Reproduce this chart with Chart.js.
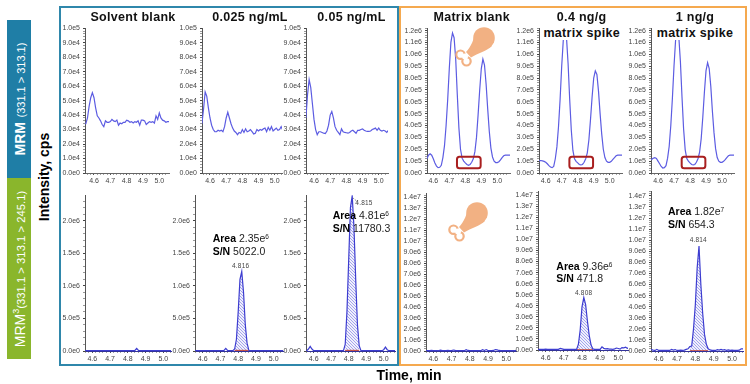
<!DOCTYPE html>
<html>
<head>
<meta charset="utf-8">
<script src="https://cdn.jsdelivr.net/npm/chart.js@4"></script>
<style>
html,body{margin:0;padding:0;background:#fff;}
#stage{position:relative;width:750px;height:384px;overflow:hidden;background:#fff;font-family:"Liberation Sans",Arial,sans-serif;filter:blur(0.45px);}
#stage canvas{position:absolute;}
.abs{position:absolute;white-space:nowrap;}
.title{font-weight:700;font-size:12.5px;letter-spacing:.3px;color:#111;transform:translate(-50%,-50%);line-height:14px;}
.title.mask{background:#fff;padding:0 1px;}
.note{font-size:10.5px;color:#222;line-height:12px;transform:translateY(-50%);}
.note b{color:#000;}
.note sup{font-size:6.5px;line-height:0;vertical-align:3px;}
.rt{font-size:6.5px;color:#444;transform:translate(-50%,-50%);letter-spacing:.2px;}
.rot{transform:translate(-50%,-50%) rotate(-90deg);color:#fff;}
</style>
</head>
<body>
<div id="stage"></div>
<script>
// retention time grid, minutes
const timeGrid=[4.54,4.55,4.56,4.57,4.58,4.59,4.60,4.61,4.62,4.63,
4.64,4.65,4.66,4.67,4.68,4.69,4.70,4.71,4.72,4.73,
4.74,4.75,4.76,4.77,4.78,4.79,4.80,4.81,4.82,4.83,
4.84,4.85,4.86,4.87,4.88,4.89,4.90,4.91,4.92,4.93,
4.94,4.95,4.96,4.97,4.98,4.99,5.00,5.01,5.02,5.03,
5.04,5.05,5.06,5.07,5.08];

// MRM row, solvent series, x1e4 cps
const mrmSolventBlank=[3.4,3.4,3.8,4.6,5.2,5.55,5.2,4.5,3.95,3.8,
3.6,3.35,3.2,3.6,3.5,3.5,3.55,3.7,3.6,3.55,
3.65,3.3,3.45,3.4,3.5,3.5,3.65,3.6,3.5,3.55,
3.45,3.55,3.5,3.6,3.3,3.65,3.65,3.6,3.35,3.45,
3.55,3.5,3.55,3.45,3.95,3.7,4.15,3.8,3.65,3.6,
3.5,3.55,3.55,3.55,3.55];
const mrmSolvent0025=[3.4,3.4,4.4,5.6,5.3,4.5,3.8,3.3,3.0,2.85,
2.85,2.95,2.9,2.95,2.85,3.2,3.8,4.2,3.8,3.4,
3.1,2.9,2.8,2.65,2.8,2.75,3.0,2.8,3.05,2.85,
2.9,3.0,2.85,2.7,2.75,3.0,2.9,3.0,2.95,3.05,
3.1,2.85,3.15,2.95,3.2,2.9,3.0,3.1,2.95,3.0,
3.2,2.95,3.0,3.0,3.0];
const mrmSolvent005=[3.8,3.8,5.4,6.45,5.9,4.8,3.7,3.0,2.65,2.85,
2.85,2.8,2.75,2.72,2.9,3.3,4.0,4.25,3.8,3.2,
2.95,2.8,2.65,3.05,2.85,2.8,2.78,2.75,2.8,2.9,
2.95,2.85,2.75,2.95,2.95,3.0,3.05,2.95,2.9,2.88,
2.88,2.9,3.0,3.05,3.1,2.95,3.1,2.95,2.9,2.95,
2.9,2.8,2.95,2.95,2.95];

// MRM row, matrix series, x1e5 cps
const mrmMatrixBlank=[1.0,1.0,1.2,1.5,1.62,1.5,1.2,0.85,0.58,0.45,
0.48,0.65,1.3,2.3,4.0,6.2,8.8,11.0,11.8,11.4,
9.6,6.6,3.8,2.0,1.25,1.0,0.85,0.72,0.65,0.72,
0.9,1.2,1.8,3.0,4.9,7.0,8.8,9.6,9.1,7.5,
5.4,3.5,2.1,1.35,1.0,0.88,0.88,0.95,1.1,1.3,
1.45,1.5,1.5,1.5,1.5];
const mrmMatrix04=[1.05,1.05,1.05,1.05,1.02,0.98,0.9,0.78,0.62,0.5,
0.45,0.55,1.2,2.2,3.9,6.2,9.0,11.2,12.0,11.4,
9.2,6.2,3.6,1.9,1.2,0.98,0.85,0.72,0.68,0.72,
0.9,1.2,1.7,2.8,4.5,6.4,8.0,8.6,8.3,6.9,
5.0,3.3,2.0,1.3,1.0,0.9,0.9,0.98,1.15,1.3,
1.45,1.5,1.5,1.5,1.5];
const mrmMatrix1=[1.1,1.1,1.15,1.25,1.3,1.22,1.0,0.78,0.55,0.42,
0.45,0.62,1.25,2.25,4.0,6.3,9.0,11.2,12.0,11.5,
9.4,6.4,3.7,1.95,1.22,1.0,0.85,0.72,0.68,0.72,
0.9,1.2,1.75,2.9,4.7,6.8,8.6,9.3,8.8,7.3,
5.2,3.4,2.05,1.3,1.0,0.9,0.9,0.98,1.12,1.3,
1.45,1.5,1.5,1.5,1.5];

// MRM3 row, solvent series, x1e6 cps
const mrm3SolventBlank=[.005,.005,.005,.005,.005,.005,.005,.005,.005,.005,
.005,.005,.005,.005,.005,.005,.005,.005,.005,.005,
.005,.005,.005,.005,.005,.005,.005,.005,.005,.005,
.01,.04,.01,.005,.005,.005,.005,.005,.005,.005,
.005,.005,.005,.005,.005,.005,.005,.005,.005,.005,
.005,.005,.005,.005,.005];
const mrm3Solvent0025=[.005,.005,.005,.005,.005,.005,.005,.005,.005,.005,
.005,.005,.005,.005,.005,.005,.005,.005,.01,.04,
.01,.005,.005,.005,.03,.18,.6,1.1,1.22,.9,
.4,.12,.01,.005,.005,.005,.005,.005,.005,.005,
.005,.005,.005,.005,.005,.005,.005,.005,.005,.005,
.005,.005,.005,.005,.005];
const mrm3Solvent005=[.005,.005,.005,.03,.07,.03,.005,.005,.005,.005,
.005,.005,.005,.005,.005,.005,.005,.005,.005,.005,
.005,.005,.005,.005,.1,.6,1.4,2.2,2.38,1.9,
1.1,.4,.08,.005,.005,.005,.005,.005,.005,.005,
.005,.005,.005,.005,.005,.005,.02,.06,.02,.005,
.005,.005,.005,.005,.005];

// MRM3 row, matrix series, x1e6 cps
const mrm3MatrixBlank=[.03,.03,.04,.03,.03,.05,.03,.04,.03,.03,
.07,.04,.03,.03,.06,.03,.03,.09,.05,.03,
.03,.04,.03,.03,.12,.05,.03,.03,.04,.03,
.03,.04,.03,.12,.05,.13,.04,.03,.03,.05,
.13,.1,.05,.03,.03,.03,.04,.03,.03,.03,
.03,.03,.03,.03,.03];
const mrm3Matrix04=[.1,.1,.05,.06,.05,.05,.08,.06,.05,.05,
.06,.05,.05,.06,.14,.1,.05,.05,.05,.05,
.05,.05,.05,.05,.5,1.8,3.9,4.75,4.1,2.6,
1.3,.45,.1,.05,.05,.05,.06,.28,.15,.1,
.12,.08,.08,.06,.1,.18,.14,.08,.22,.2,
.25,.15,.2,.2,.2];
const mrm3Matrix1=[.12,.1,.12,.08,.05,.15,.05,.05,.05,.05,
.05,.05,.05,.14,.08,.13,.05,.05,.08,.05,
.08,.15,.2,.4,.45,2.0,4.2,7.5,9.47,6.0,
3.4,1.5,.6,.2,.1,.05,.05,.05,.12,.08,
.15,.08,.12,.05,.1,.05,.08,.05,.05,.05,
.08,.2,.2,.2,.2];

// integrated peak windows, minutes
const peakWindow0025=[4.78,4.86];
const peakWindow005=[4.78,4.86];
const peakWindowMatrix04=[4.77,4.86];
const peakWindowMatrix1=[4.77,4.87];

// region marked on the matrix chromatograms
const boxTimes=[4.748,4.896];
const boxLevels=[0.41,1.36];

const columnTitles=['Solvent blank','0.025 ng/mL','0.05 ng/mL','Matrix blank'];
const spikeTitles=['0.4 ng/g','1 ng/g'];
const spikeSubtitle='matrix spike';
const peakLabels=['4.816','4.815','4.808','4.814'];
const areaLabels=[['2.35e','6'],['4.81e','6'],['9.36e','6'],['1.82e','7']];
const snLabels=['5022.0','11780.3','471.8','654.3'];

// panel geometry: axis x, x of 4.6, x of 5.0, right end, top, zero line
const panels=[
 {v:mrmSolventBlank,unit:1e4,yMax:10,major:1,g:[85,94,159.3,169,25,173],top:true},
 {v:mrmSolvent0025,unit:1e4,yMax:10,major:1,g:[202,210,274.7,282,25,173],top:true},
 {v:mrmSolvent005,unit:1e4,yMax:10,major:1,g:[306,314,378.7,388,25,173],top:true},
 {v:mrmMatrixBlank,unit:1e5,yMax:12.2,major:1,g:[427,433.3,497.3,510,25,173],top:true,box:true},
 {v:mrmMatrix04,unit:1e5,yMax:12.2,major:1,g:[539,545.7,609.7,622,25,173],top:true,box:true},
 {v:mrmMatrix1,unit:1e5,yMax:12.2,major:1,g:[651,658,722,734,25,173],top:true,box:true},
 {v:mrm3SolventBlank,unit:1e6,yMax:2.39,major:.5,g:[85,92.3,163.3,171,192,351]},
 {v:mrm3Solvent0025,unit:1e6,yMax:2.39,major:.5,g:[195,202.7,273.7,283,192,351],peak:peakWindow0025},
 {v:mrm3Solvent005,unit:1e6,yMax:2.39,major:.5,g:[306,313.7,383.7,395,192,351],peak:peakWindow005},
 {v:mrm3MatrixBlank,unit:1e6,yMax:14.38,major:1,g:[426,433.3,506.3,516,190,351]},
 {v:mrm3Matrix04,unit:1e6,yMax:14.36,major:1,g:[538,545.7,618.3,628,188,350],peak:peakWindowMatrix04},
 {v:mrm3Matrix1,unit:1e6,yMax:14.42,major:1,g:[651,658.7,732,743,188,351],peak:peakWindowMatrix1}
];

const stage=document.getElementById('stage');
function el(html,css,cls){const d=document.createElement('div');d.className='abs '+(cls||'');d.style.cssText=css;d.innerHTML=html;stage.appendChild(d);return d;}

// side bars and frames
el('', 'left:7px;top:20px;width:24px;height:158px;background:#1f7ea6');
el('', 'left:7px;top:178px;width:24px;height:181px;background:#8ab62c');
el('', 'left:59px;top:6px;width:336px;height:356px;border:2px solid #2f87ab');
el('', 'left:399px;top:6px;width:344px;height:356px;border:2px solid #f5a94f');

function hatch(){
  const c=document.createElement('canvas');c.width=3;c.height=3;
  const x=c.getContext('2d');
  x.fillStyle='#f0f0fc';x.fillRect(0,0,3,3);
  x.fillStyle='#a4a4ec';x.fillRect(0,0,1,1);x.fillRect(1,1,1,1);x.fillRect(2,2,1,1);
  return x.createPattern(c,'repeat');
}
const boxPlugin={id:'box',afterDatasetsDraw(ch){
  if(!ch.options.plugins.box.on)return;
  const {x,y}=ch.scales,c=ch.ctx;
  const l=x.getPixelForValue(boxTimes[0]),r=x.getPixelForValue(boxTimes[1]),
        b=y.getPixelForValue(boxLevels[0]),t=y.getPixelForValue(boxLevels[1]);
  c.save();c.strokeStyle='#a91f1f';c.lineWidth=2;c.beginPath();c.roundRect(l,t,r-l,b-t,2.5);c.stroke();c.restore();
}};

const LEFT=30,TOP=4,RIGHT=6,BOTTOM=15;
panels.forEach(p=>{
  const [ax,x46,x50,rx,ty,zy]=p.g;
  const ppm=(x50-x46)/0.4;
  const xMin=4.6-(x46-ax)/ppm, xMax=4.6+(rx-x46)/ppm;
  const cv=document.createElement('canvas');
  const w=LEFT+(Math.round(rx)-ax)+RIGHT,h=TOP+(zy-ty)+BOTTOM;
  cv.width=w;cv.height=h;cv.style.cssText=`left:${ax-LEFT}px;top:${ty-TOP}px;width:${w}px;height:${h}px`;
  stage.appendChild(cv);
  const line=p.top?'#5c5ce2':'#3d3dd0';
  const pts=timeGrid.map((t,i)=>({x:t,y:p.v[i]}));
  const ds=[{data:pts,borderColor:line,borderWidth:1.2,pointRadius:0,tension:0,showLine:true,fill:false}];
  if(p.peak){
    const win=pts.filter(q=>q.x>=p.peak[0]-1e-6&&q.x<=p.peak[1]+1e-6);
    ds.push({data:[{x:p.peak[0],y:0.02*p.major},{x:p.peak[1],y:0.02*p.major}],borderColor:'#c23a2a',borderWidth:1,pointRadius:0,showLine:true,fill:false});
    ds.push({data:win,borderColor:'rgba(0,0,0,0)',borderWidth:0,pointRadius:0,showLine:true,fill:'origin',backgroundColor:hatch()});
  }
  new Chart(cv,{type:'scatter',data:{datasets:ds},plugins:[boxPlugin],options:{
    responsive:false,animation:false,devicePixelRatio:1,
    layout:{padding:{top:TOP,right:RIGHT,left:0,bottom:0}},
    plugins:{legend:{display:false},tooltip:{enabled:false},box:{on:!!p.box}},
    scales:{
      x:{type:'linear',min:xMin,max:xMax,
        afterFit(s){s.height=BOTTOM;},
        afterBuildTicks(s){const out=[];for(let k=Math.ceil(xMin*50);k<=Math.floor(xMax*50);k++)out.push({value:k/50});s.ticks=out;},
        grid:{drawOnChartArea:false,drawTicks:true,tickLength:2,tickColor:c=>{const t=c.tick&&Math.round(c.tick.value*50);return t%5===0?'#555':'rgba(85,85,85,.55)';}},
        border:{display:true,color:p.top?'#666':'#33339a',width:1},
        ticks:{autoSkip:false,maxRotation:0,padding:2,color:'#444',font:{size:7,family:'"Liberation Sans",Arial,sans-serif'},
          callback(v){const k=Math.round(v*100);return k%10===0?(k/100).toFixed(1):'';}}
      },
      y:{type:'linear',min:0,max:p.yMax,
        afterFit(s){s.width=LEFT;},
        afterBuildTicks(s){const out=[];const n=Math.floor(p.yMax/(p.major/5)+1e-6);for(let i=0;i<=n;i++)out.push({value:i*p.major/5});s.ticks=out;},
        grid:{drawOnChartArea:false,drawTicks:true,tickLength:2,tickColor:c=>c.index%5===0?'#444':'rgba(70,70,70,.55)'},
        border:{display:true,color:'#555',width:1},
        ticks:{autoSkip:false,padding:3,color:'#444',font:{size:7,family:'"Liberation Sans",Arial,sans-serif'},
          callback(v,i){return i%5===0?(v*p.unit).toExponential(1).replace('e+','e'):'';}}
      }
    }
  }});
});

// titles
[[133,17],[250,17],[351.5,17],[471.7,17]].forEach((q,i)=>el(columnTitles[i],`left:${q[0]}px;top:${q[1]}px`,'title'));
[[581.7,695]].forEach(xs=>xs.forEach((x,i)=>{
  el(spikeTitles[i],`left:${x}px;top:17px`,'title');
  el(spikeSubtitle,`left:${x}px;top:33px`,'title mask');
}));

// annotations
[[212.7,238,251],[332.7,215,227.7],[556.3,265.7,278.3],[668,211,223.7]].forEach((q,i)=>{
  el(`<b>Area</b> ${areaLabels[i][0]}<sup>${areaLabels[i][1]}</sup>`,`left:${q[0]}px;top:${q[1]}px`,'note');
  el(`<b>S/N</b> ${snLabels[i]}`,`left:${q[0]}px;top:${q[2]}px`,'note');
});
[[240.7,264.7],[364,201.7],[583.7,291.7],[698.3,239.3]].forEach((q,i)=>el(peakLabels[i],`left:${q[0]}px;top:${q[1]}px`,'rt'));
el('<svg width="12" height="10"><line x1="1" y1="1" x2="7" y2="6" stroke="#666" stroke-width=".7" stroke-dasharray="1.5 1"/></svg>','left:352px;top:193px');

// axis titles and row labels
el('Intensity, cps','left:44px;top:176.5px;font-weight:700;font-size:14px;color:#000;transform:translate(-50%,-50%) rotate(-90deg)');
el('Time, min','left:409px;top:375px;font-weight:700;font-size:14px;color:#000;transform:translate(-50%,-50%)');
el('<span style="font-weight:700;font-size:14px">MRM</span> <span style="font-size:11px">(331.1 &gt; 313.1)</span>','left:20px;top:99px','rot');
el('<span style="font-weight:400;font-size:14px">MRM<sup style="font-size:9px;line-height:0">3</sup></span><span style="font-size:11.3px">(331.1 &gt; 313.1 &gt; 245.1)</span>','left:20px;top:268.5px','rot');

// drumstick icons
function drumstick(cx,cy){
  const svg=`<svg width="60" height="60" viewBox="-35 -20 60 60" xmlns="http://www.w3.org/2000/svg">
  <path d="M-8,-7 C-10,1 -13,9 -18,14 L-13,19.5 C-6,15 3,13 8,8 Z" fill="#f2b183"/>
  <circle cx="0" cy="0" r="10.8" fill="#f2b183"/>
  <circle cx="-23.5" cy="16.7" r="4.2" fill="#fff" stroke="#f2b183" stroke-width="2.2"/>
  <circle cx="-17.5" cy="23.3" r="4.2" fill="#fff" stroke="#f2b183" stroke-width="2.2"/>
  <circle cx="-19" cy="18.5" r="3" fill="#fff"/>
  </svg>`;
  el(svg,`left:${cx-35}px;top:${cy-20}px;line-height:0`);
}
drumstick(484,38);
drumstick(477,213);
</script>
</body>
</html>
